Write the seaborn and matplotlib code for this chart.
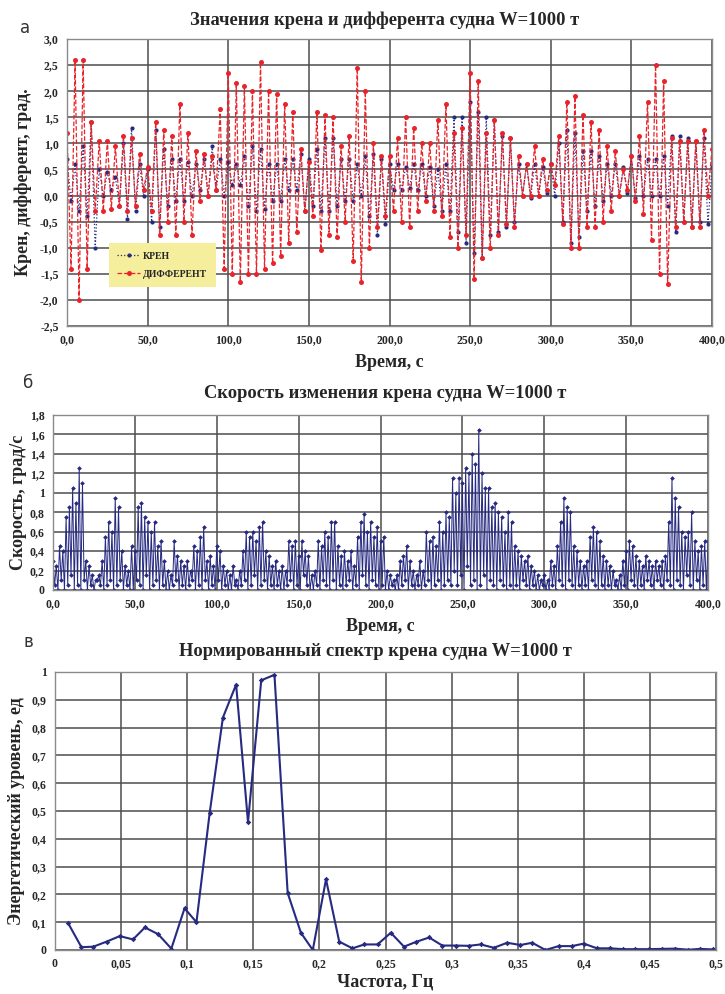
import matplotlib
matplotlib.use('Agg')
import matplotlib.pyplot as plt
from matplotlib.ticker import MultipleLocator, FuncFormatter
import numpy as np
import pandas as pd
import seaborn as sns

# ~~~ data ~~~
# panel a: heel and trim, one value every 2.5 s (crest / trough)
t_roll = np.arange(0, 400.1, 2.5)
kren = [0.70, -0.10, 0.60, -0.30, 0.95, -0.40, 1.40, -1.00,
        0.50, 0.00, 0.45, 0.10, 0.35, -0.20, 1.00, -0.45,
        1.30, -0.30, 0.60, 0.00, 0.50, -0.50, 1.25, -0.60,
        0.90, -0.20, 0.70, -0.10, 0.70, -0.10, 0.65, 0.00,
        0.60, 0.10, 0.70, 0.00, 0.95, 0.10, 0.70, 0.00,
        0.65, 0.20, 0.60, 0.20, 0.75, -0.20, 0.95, -0.30,
        0.90, -0.25, 0.60, -0.10, 0.60, -0.10, 0.70, 0.10,
        0.70, 0.10, 0.80, -0.30, 0.70, -0.20, 0.90, -0.30,
        1.10, -0.30, 1.10, -0.20, 0.70, -0.10, 0.70, -0.10,
        0.60, 0.00, 0.75, -0.40, 0.80, -0.75, 0.70, -0.55,
        0.60, 0.10, 0.60, 0.10, 0.55, 0.15, 0.60, 0.10,
        0.60, 0.00, 0.55, -0.20, 0.50, -0.30, 0.60, -0.30,
        1.50, -0.70, 1.50, -0.90, 1.80, -1.10, 1.60, -1.20,
        1.50, -0.75, 1.45, -0.70, 1.15, -0.60, 1.10, -0.50,
        0.60, 0.00, 0.60, -0.05, 0.60, 0.00, 0.55, 0.05,
        0.60, 0.00, 1.00, -0.50, 1.25, -0.90, 1.20, -0.80,
        0.85, -0.30, 0.85, -0.20, 0.75, -0.10, 0.60, 0.00,
        0.60, 0.00, 0.55, 0.05, 0.75, -0.05, 0.75, 0.00,
        0.70, 0.00, 0.70, 0.00, 0.75, -0.20, 1.15, -0.70,
        1.15, -0.50, 1.10, -0.60, 1.05, -0.50, 1.10, -0.55,
        0.55]
different = [1.20, -1.40, 2.60, -2.00, 2.60, -1.40, 1.40, -0.30,
             1.05, -0.30, 1.05, -0.25, 0.95, -0.20, 1.15, -0.30,
             1.10, -0.20, 0.80, 0.10, 0.55, -0.30, 1.40, -0.75,
             1.25, -0.50, 1.15, -0.75, 1.75, -0.50, 1.20, -0.75,
             0.85, -0.10, 0.80, 0.00, 0.75, 0.10, 1.65, -1.40,
             2.35, -1.50, 2.15, -1.65, 2.10, -1.50, 2.00, -1.50,
             2.55, -1.40, 2.00, -1.30, 1.95, -1.15, 1.75, -0.90,
             1.60, -0.70, 0.90, -0.30, 0.65, -0.40, 1.60, -1.05,
             1.55, -0.75, 1.50, -0.80, 0.95, -0.50, 1.15, -1.25,
             2.45, -1.65, 2.00, -1.00, 1.00, -0.60, 0.75, -0.40,
             0.75, -0.30, 1.10, -0.50, 1.50, -0.60, 1.30, -0.30,
             1.00, -0.10, 1.00, -0.30, 1.45, -0.40, 1.75, -0.80,
             1.20, -1.00, 1.30, -0.75, 2.35, -1.60, 2.20, -1.20,
             1.20, -1.00, 1.45, -0.75, 1.20, -0.55, 1.10, -0.60,
             0.75, 0.00, 0.60, 0.00, 0.95, 0.00, 0.70, 0.10,
             0.60, 0.20, 1.15, -0.55, 1.80, -1.00, 1.90, -1.00,
             1.55, -0.60, 1.40, -0.60, 1.25, -0.50, 0.95, -0.30,
             0.85, 0.00, 0.50, 0.10, 0.75, -0.10, 1.15, -0.35,
             1.80, -0.85, 2.50, -1.50, 2.20, -1.70, 1.10, -0.60,
             1.05, -0.50, 1.05, -0.60, 1.05, -0.60, 1.25, 0.00,
             0.90]

# panel b: heel rate, peaks every 2 s (t = 0, 2, ... 400) and the dips between them
t_speed = np.arange(0, 400.1, 1)
speed_peaks = [0.30, 0.25, 0.45, 0.40, 0.75, 0.85, 1.05, 0.90, 1.25, 1.10,
               0.30, 0.25, 0.15, 0.10, 0.15, 0.30, 0.55, 0.70, 0.60, 0.95,
               0.85, 0.40, 0.25, 0.20, 0.45, 0.40, 0.85, 0.90, 0.75, 0.70,
               0.60, 0.70, 0.45, 0.50, 0.30, 0.20, 0.15, 0.50, 0.35, 0.30,
               0.25, 0.30, 0.20, 0.45, 0.40, 0.55, 0.65, 0.30, 0.35, 0.25,
               0.45, 0.40, 0.25, 0.20, 0.15, 0.25, 0.10, 0.20, 0.40, 0.60,
               0.55, 0.60, 0.50, 0.65, 0.70, 0.40, 0.35, 0.25, 0.30, 0.20,
               0.25, 0.20, 0.50, 0.45, 0.50, 0.35, 0.50, 0.40, 0.35, 0.15,
               0.20, 0.50, 0.45, 0.60, 0.55, 0.70, 0.70, 0.45, 0.35, 0.40,
               0.30, 0.40, 0.25, 0.55, 0.70, 0.78, 0.60, 0.70, 0.55, 0.65,
               0.50, 0.55, 0.20, 0.15, 0.10, 0.15, 0.30, 0.35, 0.45, 0.30,
               0.20, 0.15, 0.30, 0.20, 0.60, 0.50, 0.55, 0.45, 0.70, 0.60,
               0.80, 0.75, 1.15, 1.00, 1.15, 1.10, 1.25, 1.20, 1.40, 1.30,
               1.65, 1.20, 1.05, 1.05, 0.85, 0.90, 0.80, 0.75, 0.60, 0.80,
               0.70, 0.45, 0.40, 0.35, 0.30, 0.35, 0.25, 0.20, 0.15, 0.10,
               0.15, 0.10, 0.30, 0.25, 0.45, 0.70, 0.95, 0.85, 0.80, 0.45,
               0.40, 0.30, 0.25, 0.30, 0.55, 0.65, 0.60, 0.50, 0.35, 0.30,
               0.25, 0.20, 0.10, 0.15, 0.30, 0.40, 0.50, 0.45, 0.35, 0.30,
               0.25, 0.35, 0.30, 0.25, 0.30, 0.25, 0.30, 0.35, 0.70, 1.15,
               0.95, 0.85, 0.60, 0.55, 0.60, 0.80, 0.50, 0.40, 0.45, 0.50,
               0.50]
speed_dips = [0.05, 0.00, 0.10, 0.00, 0.05, 0.15, 0.00, 0.05, 0.00, 0.10,
              0.00, 0.05, 0.00, 0.10, 0.05, 0.00, 0.05, 0.10, 0.00, 0.05,
              0.10, 0.00, 0.05, 0.00, 0.00, 0.10, 0.05, 0.00, 0.15, 0.00,
              0.05, 0.10, 0.00, 0.05, 0.00, 0.00, 0.05, 0.10, 0.00, 0.05,
              0.00, 0.05, 0.10, 0.00, 0.05, 0.00, 0.10, 0.00, 0.05, 0.00,
              0.10, 0.00, 0.05, 0.00, 0.00, 0.05, 0.00, 0.05, 0.10, 0.00,
              0.05, 0.15, 0.00, 0.05, 0.10, 0.00, 0.05, 0.00, 0.05, 0.00,
              0.00, 0.05, 0.10, 0.00, 0.05, 0.00, 0.15, 0.05, 0.00, 0.00,
              0.05, 0.00, 0.10, 0.05, 0.00, 0.10, 0.00, 0.05, 0.00, 0.05,
              0.10, 0.00, 0.05, 0.00, 0.15, 0.05, 0.00, 0.10, 0.05, 0.00,
              0.05, 0.00, 0.00, 0.05, 0.00, 0.00, 0.05, 0.10, 0.00, 0.05,
              0.00, 0.05, 0.00, 0.05, 0.10, 0.00, 0.05, 0.10, 0.00, 0.05,
              0.10, 0.05, 0.20, 0.05, 0.15, 0.00, 0.25, 0.05, 0.10, 0.00,
              0.05, 0.15, 0.00, 0.10, 0.05, 0.00, 0.10, 0.05, 0.00, 0.05,
              0.00, 0.05, 0.00, 0.10, 0.05, 0.00, 0.05, 0.00, 0.00, 0.05,
              0.00, 0.00, 0.05, 0.00, 0.10, 0.05, 0.00, 0.10, 0.05, 0.00,
              0.05, 0.00, 0.05, 0.00, 0.10, 0.05, 0.00, 0.05, 0.00, 0.05,
              0.00, 0.05, 0.00, 0.00, 0.05, 0.00, 0.10, 0.05, 0.00, 0.05,
              0.00, 0.10, 0.05, 0.00, 0.10, 0.05, 0.00, 0.10, 0.05, 0.00,
              0.10, 0.05, 0.00, 0.15, 0.05, 0.00, 0.10, 0.00, 0.05, 0.00]

# panel c: normalised heel spectrum
freq = [0.010, 0.020, 0.029, 0.039, 0.049, 0.059, 0.068, 0.078, 0.088, 0.098,
        0.107, 0.117, 0.127, 0.137, 0.146, 0.156, 0.166, 0.176, 0.186, 0.195,
        0.205, 0.215, 0.225, 0.234, 0.244, 0.254, 0.264, 0.273, 0.283, 0.293,
        0.303, 0.313, 0.322, 0.332, 0.342, 0.352, 0.361, 0.371, 0.381, 0.391,
        0.400, 0.410, 0.420, 0.430, 0.439, 0.449, 0.459, 0.469, 0.479, 0.488,
        0.498]
spectrum = [0.096, 0.010, 0.012, 0.030, 0.050, 0.038, 0.081, 0.057, 0.005, 0.150,
            0.100, 0.493, 0.836, 0.955, 0.460, 0.970, 0.990, 0.205, 0.062, 0.000,
            0.254, 0.030, 0.006, 0.020, 0.020, 0.062, 0.012, 0.029, 0.045, 0.016,
            0.016, 0.015, 0.020, 0.008, 0.026, 0.018, 0.026, 0.000, 0.014, 0.014,
            0.023, 0.006, 0.006, 0.003, 0.003, 0.003, 0.004, 0.005, 0.001, 0.004,
            0.002]

# interleave peaks and dips of the heel rate
speed = [v for pair in zip(speed_peaks, speed_dips) for v in pair] + [speed_peaks[-1]]

roll_df = pd.DataFrame({'t': t_roll, 'КРЕН': kren, 'ДИФФЕРЕНТ': different})
speed_df = pd.DataFrame({'t': t_speed, 'v': speed})
spec_df = pd.DataFrame({'f': freq, 's': spectrum})

# ~~~ style ~~~
sns.set_style('white')
plt.rcParams['font.family'] = ['Liberation Serif', 'DejaVu Serif']

NAVY = '#262A80'
RED = '#E8242A'
GRID = '#4d4d4d'
W, H = 725, 994

fig = plt.figure(figsize=(W / 100, H / 100), dpi=100)


def box(left, top, right, bottom):
    return [left / W, 1 - bottom / H, (right - left) / W, (bottom - top) / H]


def comma(fmt):
    return FuncFormatter(lambda v, p: (fmt % v).replace('.', ','))


def dress(ax):
    ax.grid(True, which='major', color=GRID, linewidth=1.1)
    for s in ax.spines.values():
        s.set_color('#8a8a8a')
        s.set_linewidth(1.0)
    ax.tick_params(which='major', direction='out', length=3, width=0.8,
                   labelsize=8.5, pad=3, color='#555555')
    ax.tick_params(which='minor', direction='out', length=3, width=0.8, color='#555555')
    for lab in ax.get_xticklabels() + ax.get_yticklabels():
        lab.set_fontweight('bold')


def panel_text(letter, lx, ly, title, tx, ty):
    fig.text(lx / W, 1 - ly / H, letter, fontsize=12, family='DejaVu Sans',
             ha='center', va='center', color='#333333')
    fig.text(tx / W, 1 - ty / H, title, fontsize=13.3, fontweight='bold',
             ha='center', va='center')


# ~~~ panel a ~~~
ax1 = fig.add_axes(box(67, 39, 712, 326))
sns.lineplot(data=roll_df, x='t', y='КРЕН', ax=ax1, color=NAVY, linestyle=':',
             linewidth=0.9, marker='o', markersize=3.0, markeredgewidth=0,
             label='КРЕН', sort=False)
sns.lineplot(data=roll_df, x='t', y='ДИФФЕРЕНТ', ax=ax1, color=RED, linestyle='--',
             linewidth=0.9, marker='o', markersize=3.6, markeredgewidth=0,
             label='ДИФФЕРЕНТ', sort=False)
ax1.set_xlim(0, 400)
ax1.set_ylim(-2.5, 3.0)
ax1.xaxis.set_major_locator(MultipleLocator(50))
ax1.xaxis.set_minor_locator(MultipleLocator(10))
ax1.yaxis.set_major_locator(MultipleLocator(0.5))
ax1.xaxis.set_major_formatter(comma('%.1f'))
ax1.yaxis.set_major_formatter(comma('%.1f'))
ax1.set_xlabel('Время, с', fontsize=13, fontweight='bold')
ax1.set_ylabel('Крен, дифферент, град.', fontsize=13, fontweight='bold')
ax1.xaxis.set_label_coords(0.5, -0.098)
ax1.yaxis.set_label_coords(-0.055, 0.5)
dress(ax1)
ax1.legend(loc='lower left', bbox_to_anchor=(0.057, 0.118), frameon=True,
           facecolor='#F5EE9C', edgecolor='none', framealpha=1, fancybox=False,
           prop={'family': 'Liberation Serif', 'weight': 'bold', 'size': 7},
           handlelength=2.3, borderpad=0.9, labelspacing=0.9, handletextpad=0.3)
panel_text('а', 25, 28, 'Значения крена и дифферента судна W=1000 т', 385, 20)

# ~~~ panel b ~~~
ax2 = fig.add_axes(box(53, 415, 708, 590))
sns.lineplot(data=speed_df, x='t', y='v', ax=ax2, color=NAVY, linewidth=0.7,
             marker='D', markersize=2.4, markeredgewidth=0, sort=False)
ax2.set_xlim(0, 400)
ax2.set_ylim(0, 1.8)
ax2.xaxis.set_major_locator(MultipleLocator(50))
ax2.yaxis.set_major_locator(MultipleLocator(0.2))
ax2.xaxis.set_major_formatter(comma('%.1f'))
ax2.yaxis.set_major_formatter(comma('%g'))
ax2.set_xlabel('Время, с', fontsize=13, fontweight='bold')
ax2.set_ylabel('Скорость, град/с', fontsize=13, fontweight='bold')
ax2.xaxis.set_label_coords(0.5, -0.16)
ax2.yaxis.set_label_coords(-0.04, 0.5)
dress(ax2)
panel_text('б', 28, 383, 'Скорость изменения крена судна W=1000 т', 385, 393)

# ~~~ panel c ~~~
ax3 = fig.add_axes(box(55, 672, 716, 950))
sns.lineplot(data=spec_df, x='f', y='s', ax=ax3, color=NAVY, linewidth=1.5,
             marker='D', markersize=2.8, markeredgewidth=0)
ax3.set_xlim(0, 0.5)
ax3.set_ylim(0, 1.0)
ax3.xaxis.set_major_locator(MultipleLocator(0.05))
ax3.xaxis.set_minor_locator(MultipleLocator(0.01))
ax3.yaxis.set_major_locator(MultipleLocator(0.1))
ax3.xaxis.set_major_formatter(comma('%g'))
ax3.yaxis.set_major_formatter(comma('%g'))
ax3.set_xlabel('Частота, Гц', fontsize=13, fontweight='bold')
ax3.set_ylabel('Энергетический уровень, ед', fontsize=13, fontweight='bold')
ax3.xaxis.set_label_coords(0.5, -0.085)
ax3.yaxis.set_label_coords(-0.046, 0.5)
dress(ax3)
panel_text('в', 28, 642, 'Нормированный спектр крена судна W=1000 т', 375, 652)

fig.savefig('out.png', dpi=100)
